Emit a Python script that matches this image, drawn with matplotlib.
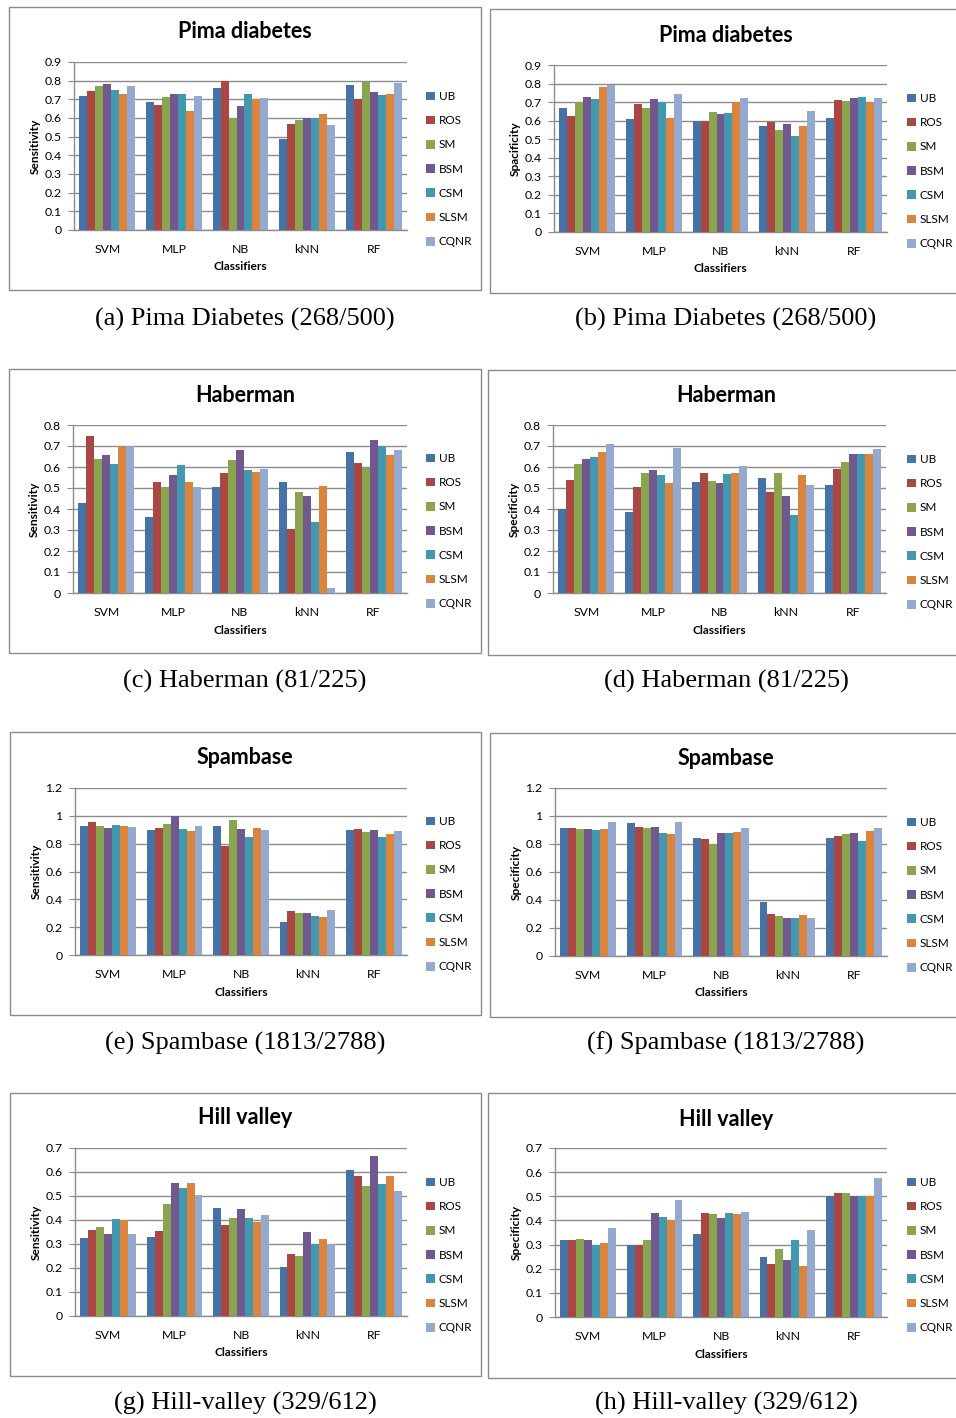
import matplotlib
matplotlib.use("Agg")
import matplotlib.pyplot as plt
from matplotlib.patches import Rectangle
import numpy as np

# ---------------- data ----------------
classifiers = ["SVM", "MLP", "NB", "kNN", "RF"]
methods = ["UB", "ROS", "SM", "BSM", "CSM", "SLSM", "CQNR"]
colors = ["#4572A7", "#AA4643", "#89A54E", "#71588F", "#4198AF", "#DB843D", "#93A9CF"]

# rows = classifiers, columns = methods
pima_sens = [[0.72, 0.745, 0.77, 0.78, 0.75, 0.73, 0.77],
             [0.685, 0.67, 0.715, 0.73, 0.73, 0.635, 0.72],
             [0.76, 0.80, 0.60, 0.665, 0.73, 0.70, 0.705],
             [0.485, 0.57, 0.59, 0.60, 0.60, 0.62, 0.56],
             [0.775, 0.70, 0.795, 0.74, 0.725, 0.73, 0.785]]
pima_spec = [[0.67, 0.625, 0.70, 0.725, 0.715, 0.78, 0.79],
             [0.61, 0.69, 0.67, 0.715, 0.70, 0.615, 0.745],
             [0.60, 0.60, 0.645, 0.635, 0.64, 0.70, 0.72],
             [0.57, 0.595, 0.55, 0.58, 0.52, 0.57, 0.65],
             [0.615, 0.71, 0.705, 0.72, 0.73, 0.70, 0.72]]
haberman_sens = [[0.43, 0.75, 0.64, 0.655, 0.615, 0.695, 0.70],
                 [0.36, 0.53, 0.505, 0.56, 0.61, 0.53, 0.505],
                 [0.505, 0.57, 0.635, 0.68, 0.585, 0.575, 0.59],
                 [0.53, 0.305, 0.48, 0.46, 0.34, 0.51, 0.025],
                 [0.67, 0.62, 0.595, 0.73, 0.70, 0.655, 0.68]]
haberman_spec = [[0.40, 0.54, 0.615, 0.64, 0.65, 0.67, 0.71],
                 [0.385, 0.505, 0.57, 0.585, 0.56, 0.525, 0.69],
                 [0.53, 0.57, 0.535, 0.525, 0.565, 0.57, 0.605],
                 [0.55, 0.48, 0.57, 0.46, 0.37, 0.56, 0.515],
                 [0.515, 0.59, 0.625, 0.66, 0.66, 0.66, 0.685]]
spam_sens = [[0.925, 0.955, 0.93, 0.91, 0.935, 0.925, 0.92],
             [0.90, 0.91, 0.94, 1.0, 0.905, 0.89, 0.93],
             [0.93, 0.785, 0.97, 0.905, 0.845, 0.91, 0.895],
             [0.24, 0.315, 0.305, 0.30, 0.28, 0.27, 0.325],
             [0.895, 0.905, 0.885, 0.90, 0.85, 0.87, 0.89]]
spam_spec = [[0.915, 0.915, 0.905, 0.905, 0.90, 0.905, 0.96],
             [0.95, 0.925, 0.915, 0.92, 0.88, 0.87, 0.955],
             [0.84, 0.835, 0.80, 0.88, 0.88, 0.885, 0.915],
             [0.385, 0.30, 0.285, 0.27, 0.275, 0.29, 0.27],
             [0.845, 0.86, 0.87, 0.88, 0.825, 0.89, 0.915]]
hill_sens = [[0.325, 0.36, 0.37, 0.34, 0.405, 0.40, 0.34],
             [0.33, 0.355, 0.465, 0.555, 0.535, 0.555, 0.505],
             [0.45, 0.38, 0.41, 0.445, 0.41, 0.39, 0.42],
             [0.205, 0.26, 0.25, 0.35, 0.30, 0.32, 0.30],
             [0.61, 0.585, 0.54, 0.665, 0.55, 0.585, 0.52]]
hill_spec = [[0.32, 0.32, 0.325, 0.32, 0.30, 0.305, 0.37],
             [0.30, 0.30, 0.32, 0.43, 0.415, 0.40, 0.485],
             [0.345, 0.43, 0.425, 0.41, 0.43, 0.425, 0.435],
             [0.25, 0.22, 0.28, 0.235, 0.32, 0.21, 0.36],
             [0.50, 0.515, 0.515, 0.50, 0.50, 0.50, 0.575]]

titles = ["Pima diabetes", "Pima diabetes", "Haberman", "Haberman",
          "Spambase", "Spambase", "Hill valley", "Hill valley"]
ylabels = ["Sensitivity", "Spacificity", "Sensitivity", "Specificity",
           "Sensitivity", "Specificity", "Sensitivity", "Specificity"]
captions = ["(a) Pima Diabetes (268/500)", "(b) Pima Diabetes (268/500)",
            "(c) Haberman (81/225)", "(d) Haberman (81/225)",
            "(e) Spambase (1813/2788)", "(f) Spambase (1813/2788)",
            "(g) Hill-valley (329/612)", "(h) Hill-valley (329/612)"]
ymaxes = [0.9, 0.9, 0.8, 0.8, 1.2, 1.2, 0.7, 0.7]
ysteps = [0.1, 0.1, 0.1, 0.1, 0.2, 0.2, 0.1, 0.1]
datasets = [pima_sens, pima_spec, haberman_sens, haberman_spec,
            spam_sens, spam_spec, hill_sens, hill_spec]

# ---------------- layout (pixels) ----------------
W, H = 956, 1418
fig = plt.figure(figsize=(W / 100, H / 100), dpi=100)
fig.patch.set_facecolor("white")

# panel boxes (x0, y0, x1, y1)
boxes = [(9, 7, 481, 290), (490, 9, 960, 293),
         (9, 369, 481, 653), (488, 370, 960, 655),
         (10, 732, 481, 1015), (490, 733, 960, 1017),
         (10, 1093, 481, 1376), (488, 1093, 960, 1378)]
axes_px = [(74, 62, 407, 230), (554, 65, 887, 232),
           (73, 425, 407, 593), (553, 425, 886, 593),
           (75, 788, 407, 955), (555, 788, 887, 956),
           (75, 1148, 407, 1316), (555, 1148, 887, 1317)]
title_y = [32, 35, 395, 396, 758, 759, 1118, 1119]
xlabel_y = [267, 269, 630, 630, 992, 993, 1352, 1354]
legend_y = [98, 100, 460, 461, 823, 824, 1184, 1184]
caption_y = [319, 319, 681, 681, 1043, 1043, 1403, 1403]

sans = ["Lato", "DejaVu Sans"]
grid_c = "#8c8c8c"


def fx(x):
    return x / W


def fy(y):
    return 1 - y / H


nb = len(methods)
bw = 0.12
x = np.arange(len(classifiers))

for i in range(8):
    bx0, by0, bx1, by1 = boxes[i]
    fig.add_artist(Rectangle((fx(bx0), fy(by1)), fx(bx1 - bx0), (by1 - by0) / H,
                             transform=fig.transFigure, fill=False,
                             edgecolor="#8a8a8a", lw=1.0))
    x0, y0, x1, y1 = axes_px[i]
    ax = fig.add_axes([fx(x0), fy(y1), fx(x1 - x0), (y1 - y0) / H])
    vals = np.array(datasets[i])
    handles = []
    for j in range(nb):
        h = ax.bar(x + (j - (nb - 1) / 2) * bw, vals[:, j], width=bw,
                   color=colors[j], edgecolor="none", zorder=3, label=methods[j])
        handles.append(h)
    ax.set_xlim(-0.5, len(classifiers) - 0.5)
    ax.set_ylim(0, ymaxes[i])
    ticks = np.round(np.arange(0, ymaxes[i] + 1e-9, ysteps[i]), 2)
    ax.set_yticks(ticks)
    ax.set_yticklabels([f"{t:g}" for t in ticks], fontfamily=sans, fontsize=8.8)
    ax.set_xticks(x)
    ax.set_xticklabels(classifiers, fontfamily=sans, fontsize=8.8)
    ax.tick_params(axis="x", length=0, pad=10)
    ax.tick_params(axis="y", length=4, color=grid_c, pad=5, direction="out")
    ax.yaxis.grid(True, color=grid_c, lw=1.0, zorder=0)
    ax.set_axisbelow(True)
    for s in ["top", "right"]:
        ax.spines[s].set_visible(False)
    for s in ["left", "bottom"]:
        ax.spines[s].set_color(grid_c)
        ax.spines[s].set_linewidth(1.0)
    ax.set_facecolor("none")

    left_col = (i % 2 == 0)
    tcx = 245 if left_col else 726
    fig.text(fx(tcx), fy(title_y[i]), titles[i], ha="center", va="center",
             fontfamily=sans, fontweight="bold", fontsize=15.5)
    fig.text(fx((x0 + x1) / 2), fy(xlabel_y[i]), "Classifiers", ha="center",
             va="center", fontfamily=sans, fontweight="bold", fontsize=8.6)
    fig.text(fx(x0 - 39), fy((y0 + y1) / 2), ylabels[i], ha="center", va="center",
             rotation=90, fontfamily=sans, fontweight="bold", fontsize=8.6)
    fig.text(fx(tcx), fy(caption_y[i]), captions[i], ha="center", va="center",
             fontfamily=["Liberation Serif", "DejaVu Serif"], fontsize=19)

    lx = 426 if left_col else 907
    fig.legend(handles=handles, labels=methods, loc="upper left",
               bbox_to_anchor=(fx(lx), fy(legend_y[i] - 7)),
               frameon=False, borderpad=0, borderaxespad=0,
               handlelength=0.75, handleheight=0.75, handletextpad=0.35,
               labelspacing=1.12, prop={"family": sans, "size": 8.5})

fig.savefig("out.png", dpi=100, facecolor="white")
